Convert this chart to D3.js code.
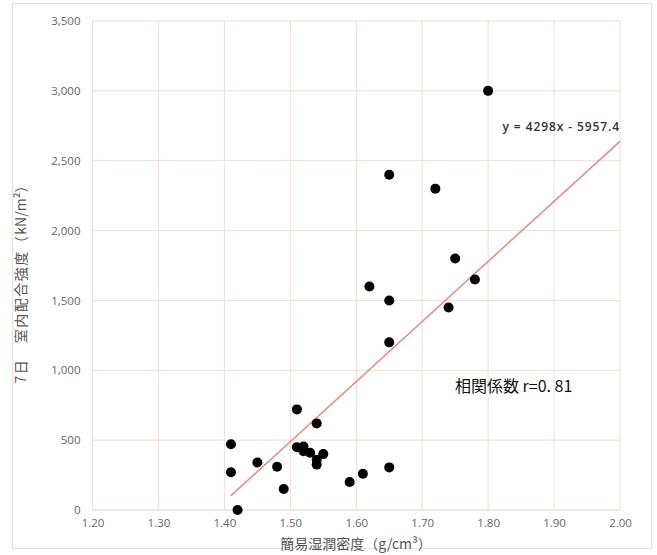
<!DOCTYPE html>
<html>
<head>
<meta charset="utf-8">
<script src="https://cdn.jsdelivr.net/npm/d3@7"></script>
<style>
body { margin: 0; background: #fff; }
svg { display: block; }
</style>
</head>
<body>
<div id="chart"></div>
<script>
// data
var density = [1.41, 1.41, 1.42, 1.45, 1.48, 1.49, 1.51, 1.51, 1.52, 1.52, 1.53, 1.55, 1.54, 1.54, 1.54,
	1.59, 1.61, 1.65, 1.65, 1.72, 1.75, 1.62, 1.65, 1.78, 1.74, 1.65, 1.80]
var strength = [470, 270, 0, 340, 310, 150, 720, 450, 455, 420, 410, 400, 360, 325, 620,
	200, 260, 305, 2400, 2300, 1800, 1600, 1500, 1650, 1450, 1200, 3000]
var xTicks = [1.2, 1.3, 1.4, 1.5, 1.6, 1.7, 1.8, 1.9, 2.0]
var yTicks = [0, 500, 1000, 1500, 2000, 2500, 3000, 3500]
var slope = 4298, intercept = -5957.4
var trendRange = [1.41, 2.0]

var w = 657, h = 555
var margin = {left: 92.5, right: 37, top: 21, bottom: 45}

var svg = d3.select("#chart")
	.append("svg")
	.attr("width", w)
	.attr("height", h)
	.style("font-family", "'Noto Sans CJK JP', 'Noto Sans', sans-serif")

// outer frame
svg.append("rect")
	.attr("x", 12.5).attr("y", 3.5)
	.attr("width", 639).attr("height", 545)
	.attr("fill", "none")
	.attr("stroke", "#e2e2e2")

var x = d3.scaleLinear().domain([1.2, 2.0]).range([margin.left, w - margin.right])
var y = d3.scaleLinear().domain([0, 3500]).range([h - margin.bottom, margin.top])

// grid
var grid = svg.append("g")
grid.selectAll(".vg").data(xTicks).enter().append("line")
	.attr("x1", d => x(d)).attr("x2", d => x(d))
	.attr("y1", y(3500)).attr("y2", y(0))
	.attr("stroke", "#ecdfda")
grid.selectAll(".hg").data(yTicks).enter().append("line")
	.attr("x1", x(1.2)).attr("x2", x(2.0))
	.attr("y1", d => y(d)).attr("y2", d => y(d))
	.attr("stroke", d => d == 0 ? "#e3cdc6" : "#ecdfda")

// axes (labels only)
var xAxis = svg.append("g")
	.attr("transform", "translate(0," + y(0) + ")")
	.call(d3.axisBottom(x).tickValues(xTicks).tickFormat(d3.format(".2f")).tickSize(0).tickPadding(9))
var yAxis = svg.append("g")
	.attr("transform", "translate(" + (margin.left - 12) + ",0)")
	.call(d3.axisLeft(y).tickValues(yTicks).tickFormat(d3.format(",")).tickSize(0).tickPadding(0))
svg.selectAll(".domain").remove()
svg.selectAll(".tick text")
	.attr("fill", "#666")
	.style("font-size", "11.5px")
	.style("font-family", "'Open Sans', sans-serif")

// trend line
var trend = trendRange.map(function(d) { return [d, slope * d + intercept] })
svg.append("path")
	.attr("d", d3.line().x(d => x(d[0])).y(d => y(d[1]))(trend))
	.attr("stroke", "#e9897e")
	.attr("stroke-width", 1.5)
	.attr("fill", "none")

// dots
svg.append("g").selectAll("circle")
	.data(density.map(function(d, i) { return {x: d, y: strength[i]} }))
	.enter().append("circle")
	.attr("cx", d => x(d.x))
	.attr("cy", d => y(d.y))
	.attr("r", 5)
	.attr("fill", "#000")

// annotations
svg.append("text")
	.attr("x", x(2.0)).attr("y", 131)
	.attr("text-anchor", "end")
	.attr("fill", "#333")
	.style("font-size", "12px")
	.style("font-weight", "600")
	.style("letter-spacing", "0.9px")
	.style("font-family", "'Open Sans', sans-serif")
	.text("y = 4298x - 5957.4")

svg.append("text")
	.attr("x", 455).attr("y", 392)
	.attr("fill", "#111")
	.style("font-size", "16px")
	.text("相関係数 r=0. 81")

// axis titles
svg.append("text")
	.attr("x", 356).attr("y", 549)
	.attr("text-anchor", "middle")
	.attr("fill", "#555")
	.style("font-size", "14px")
	.text("簡易湿潤密度（g/cm³）")

var yTitle = svg.append("text")
	.attr("transform", "translate(26,281) rotate(-90)")
	.attr("text-anchor", "middle")
	.attr("fill", "#555")
	.style("font-size", "14px")
yTitle.append("tspan").style("letter-spacing", "1.5px").text("7日　室内配合強度（")
yTitle.append("tspan").text("kN/m²")
yTitle.append("tspan").text("）")
</script>
</body>
</html>
